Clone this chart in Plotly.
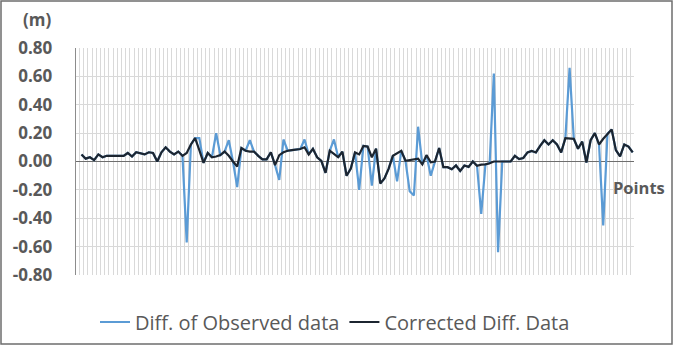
import plotly.graph_objects as go

# Corrected differences (black line), one value per point
corrected = [
    0.05, 0.02, 0.03, 0.01, 0.05, 0.03, 0.04, 0.04, 0.04, 0.04,
    0.04, 0.06, 0.035, 0.065, 0.06, 0.05, 0.065, 0.06, 0.00, 0.065,
    0.10, 0.07, 0.05, 0.07, 0.04, 0.06, 0.12, 0.165, 0.08, -0.01,
    0.06, 0.03, 0.035, 0.045, 0.07, 0.04, 0.00, -0.035, 0.095, 0.076,
    0.07, 0.07, 0.04, 0.015, 0.015, 0.065, -0.026, 0.045, 0.065, 0.076,
    0.08, 0.083, 0.088, 0.10, 0.05, 0.09, 0.03, 0.005, -0.08, 0.076,
    0.05, 0.03, 0.07, -0.10, -0.05, 0.064, 0.05, 0.11, 0.105, 0.03,
    0.09, -0.155, -0.12, -0.05, 0.04, 0.06, 0.075, 0.005, 0.01, 0.015,
    0.02, -0.02, 0.045, -0.005, 0.00, 0.095, -0.04, -0.04, -0.055, -0.028,
    -0.067, -0.028, -0.038, 0.00, -0.03, -0.022, -0.02, -0.012, 0.00, 0.00,
    0.00, 0.00, 0.00, 0.04, 0.017, 0.025, 0.064, 0.075, 0.064, 0.11,
    0.15, 0.12, 0.15, 0.12, 0.064, 0.165, 0.16, 0.16, 0.09, 0.14,
    -0.007, 0.15, 0.20, 0.12, 0.16, 0.195, 0.225, 0.08, 0.036, 0.12,
    0.105, 0.064,
]

# Observed differences (blue line): same as corrected except at outliers
observed = [
    0.05, 0.02, 0.03, 0.01, 0.05, 0.03, 0.04, 0.04, 0.04, 0.04,
    0.04, 0.06, 0.035, 0.065, 0.06, 0.05, 0.065, 0.06, 0.00, 0.065,
    0.10, 0.07, 0.05, 0.07, 0.04, -0.57, 0.12, 0.165, 0.165, -0.01,
    0.06, 0.03, 0.20, 0.045, 0.07, 0.15, 0.00, -0.18, 0.095, 0.076,
    0.15, 0.07, 0.04, 0.015, 0.015, 0.065, -0.026, -0.13, 0.155, 0.076,
    0.08, 0.083, 0.088, 0.155, 0.05, 0.09, 0.03, 0.005, -0.08, 0.076,
    0.155, 0.03, 0.07, -0.10, -0.05, 0.064, -0.20, 0.11, 0.105, -0.17,
    0.09, -0.155, -0.12, -0.05, 0.04, -0.14, 0.075, 0.005, -0.21, -0.24,
    0.245, -0.02, 0.045, -0.10, 0.00, 0.095, -0.04, -0.04, -0.055, -0.028,
    -0.067, -0.028, -0.038, 0.00, -0.03, -0.37, -0.02, -0.012, 0.62, -0.64,
    0.00, 0.00, 0.00, 0.04, 0.017, 0.025, 0.064, 0.075, 0.064, 0.11,
    0.15, 0.12, 0.15, 0.12, 0.064, 0.165, 0.66, 0.16, 0.09, 0.14,
    -0.007, 0.15, 0.20, 0.12, -0.45, 0.195, 0.225, 0.08, 0.036, 0.12,
    0.105, 0.064,
]

points = list(range(len(corrected)))
y_ticks = [0.8, 0.6, 0.4, 0.2, 0.0, -0.2, -0.4, -0.6, -0.8]
series_names = ["Diff. of Observed data", "Corrected Diff. Data"]

FONT = "Open Sans, Lato, DejaVu Sans, sans-serif"
GREY = "#595959"

fig = go.Figure()
fig.add_trace(go.Scatter(x=points, y=observed, mode="lines", name=series_names[0],
                         line=dict(color="#5B9BD5", width=2.2)))
fig.add_trace(go.Scatter(x=points, y=corrected, mode="lines", name=series_names[1],
                         line=dict(color="#1c2530", width=2.2)))

L, R, T, B = 76, 39, 48, 70
W, H = 673, 345
pw, ph = W - L - R, H - T - B

def px_x(px):
    return (px - L) / pw

def px_y(py):
    return (H - B - py) / ph

n = len(points)
fig.update_layout(
    width=W, height=H,
    margin=dict(l=L, r=R, t=T, b=B, pad=0, autoexpand=False),
    paper_bgcolor="white", plot_bgcolor="white",
    font=dict(family=FONT, color=GREY),
    showlegend=True,
    legend=dict(orientation="h", x=px_x(335), xanchor="center", y=px_y(322), yanchor="middle",
                font=dict(size=20, color=GREY, family=FONT), itemwidth=30,
                bgcolor="rgba(0,0,0,0)"),
    xaxis=dict(range=[-1.31, n - 1 + 0.31], showticklabels=False, ticks="",
               showgrid=True, gridcolor="#d9d9d9", gridwidth=1, tick0=-0.5, dtick=1,
               zeroline=False, showline=False, fixedrange=True, automargin=False),
    yaxis=dict(range=[-0.8, 0.8], tickvals=y_ticks,
               ticktext=[f"{v:.2f}" for v in y_ticks],
               tickfont=dict(size=17, color=GREY, family=FONT, weight="bold"),
               ticks="outside", ticklen=19, tickcolor="rgba(0,0,0,0)",
               showgrid=True, gridcolor="#d9d9d9", gridwidth=1,
               zeroline=True, zerolinecolor="#6e6e6e", zerolinewidth=1.3,
               showline=True, linecolor="#8c8c8c", linewidth=1.3, fixedrange=True,
               automargin=False),
    annotations=[
        dict(text="<b>(m)</b>", xref="paper", yref="paper", x=px_x(53), y=px_y(20),
             xanchor="right", yanchor="middle", showarrow=False,
             font=dict(size=17, color=GREY, family=FONT)),
        dict(text="<b>Points</b>", xref="paper", yref="paper", x=px_x(611), y=px_y(187),
             xanchor="left", yanchor="middle", showarrow=False,
             font=dict(size=16.5, color=GREY, family=FONT)),
    ],
    shapes=[
        dict(type="rect", xref="paper", yref="paper",
             x0=px_x(1), x1=px_x(672), y0=px_y(344), y1=px_y(1),
             line=dict(color="#6e6e6e", width=1.5), fillcolor="rgba(0,0,0,0)", layer="below"),
    ],
)

fig.write_html(
    "out.html",
    config={"displayModeBar": False, "staticPlot": True},
    post_script=(
        "document.body.style.margin='0';"
        "document.body.style.overflow='hidden';"
        "document.documentElement.style.overflow='hidden';"
    ),
)
